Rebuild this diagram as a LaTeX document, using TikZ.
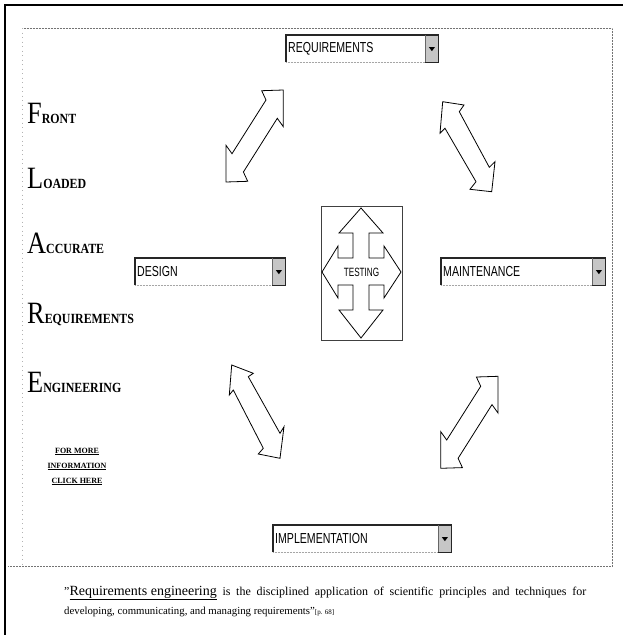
\documentclass[tikz,border=0pt]{standalone}
\usepackage{fontspec}
\setmainfont{Liberation Serif}
\newfontfamily\narrowsans[FakeStretch=0.73]{Liberation Sans}
\newfontfamily\testfont[FakeStretch=0.68]{Liberation Sans}
\newfontfamily\flarefont[FakeStretch=0.85]{Liberation Serif}

\tikzset{
  combo/.style={inner sep=0pt, anchor=north west, minimum height=27pt},
  combolabel/.style={font=\narrowsans\fontsize{14.5}{14.5}\selectfont, inner sep=0pt, anchor=west},
  blockarrow/.style={draw=black, fill=white, line width=0.8pt, line join=miter},
  flareword/.style={anchor=base west, inner sep=0pt, font=\flarefont},
  infolink/.style={font=\bfseries\fontsize{8}{8}\selectfont, inner sep=0pt, anchor=base},
  quoteline/.style={anchor=base west, inner sep=0pt},
}

\newcommand{\combobox}[5]{%
  \node[combo, minimum width=#4pt] (#1) at (#2,#3) {};
  \node[combolabel] (#1-label) at ([xshift=2pt]#1.west) {#5};
  \fill[gray!45] ([xshift=-13pt]#1.north east) rectangle (#1.south east);
  \draw[black!35, densely dotted, line width=0.5pt] (#1.south west) -- ([xshift=-13pt]#1.south east);
  \draw[black!85, line width=1.1pt] (#1.south west) -- (#1.north west) -- (#1.north east) -- (#1.south east) -- ([xshift=-13pt]#1.south east);
  \draw[black!60, line width=0.5pt] ([xshift=-13pt]#1.north east) -- ([xshift=-13pt]#1.south east);
  \fill[black] ([xshift=-9.5pt,yshift=1.5pt]#1.east) -- ([xshift=-3.5pt,yshift=1.5pt]#1.east) -- ([xshift=-6.5pt,yshift=-2.5pt]#1.east) -- cycle;
}

\begin{document}
\begin{tikzpicture}[x=1pt,y=-1pt]
\useasboundingbox (0,0) rectangle (623,635);
\fill[white] (0,0) rectangle (623,635);

% outer frame
\draw[black, line width=1.8pt] (4,5) -- (623,5);
\draw[black, line width=2.6pt] (5,4) -- (5,635);
% inner dotted frame
\draw[black!55, densely dotted, line width=0.5pt] (22,28) -- (612,28) -- (612,566) -- (8,566);
\draw[black!30, loosely dotted, line width=0.5pt] (22,28) -- (22,566);

% combo boxes
\combobox{req}{286}{35}{152}{REQUIREMENTS}
\combobox{des}{135}{258}{150}{DESIGN}
\combobox{mai}{441}{258}{164}{MAINTENANCE}
\combobox{imp}{273}{525}{178}{IMPLEMENTATION}

% testing box with four-way arrow
\node[draw=black!75, line width=0.9pt, minimum width=81pt, minimum height=134pt, inner sep=0pt] (testbox) at (361.5,273) {};
\draw[blockarrow] (361,208) -- (383,233) -- (369,233) -- (369,258) -- (384,258) -- (384,246) -- (401,272)
  -- (384,298) -- (384,285) -- (369,285) -- (369,310) -- (383,310) -- (361,338) -- (339,310)
  -- (353,310) -- (353,285) -- (338,285) -- (338,298) -- (322,272) -- (338,246) -- (338,258)
  -- (353,258) -- (353,233) -- (339,233) -- cycle;
\node[font=\testfont\fontsize{12}{12}\selectfont, inner sep=0pt] (testing) at (361.5,272) {TESTING};

% diagonal double arrows
\draw[blockarrow] (283.3,90) -- (283.3,126.7) -- (277.3,118.3) -- (243.4,172) -- (247.7,181.3)
  -- (226,182) -- (226,145.3) -- (232,153.7) -- (266,100) -- (261.7,90.7) -- cycle;
\draw[blockarrow] (442.7,101.7) -- (464,105) -- (459.3,111.7) -- (489.3,167.3) -- (495,161.7)
  -- (491.7,191.7) -- (470,189.3) -- (476,181.7) -- (445,128.3) -- (440,133.3) -- cycle;
\draw[blockarrow] (231.7,365) -- (253.3,373.3) -- (248.3,376.7) -- (280,433.3) -- (284,426.7)
  -- (280,458.3) -- (258.3,454) -- (263.3,448.3) -- (233.3,390) -- (229.3,395) -- cycle;
\draw[blockarrow] (498,376.3) -- (498,413) -- (492,404.6) -- (458.1,458.3) -- (462.4,467.6)
  -- (440.7,468.3) -- (440.7,431.6) -- (446.7,440) -- (480.7,386.3) -- (476.4,377) -- cycle;

% FLARE words
\node[flareword] (w1) at (27,123) {{\fontsize{31}{31}\selectfont F}{\fontsize{14}{14}\selectfont\bfseries RONT}};
\node[flareword] (w2) at (27,188) {{\fontsize{31}{31}\selectfont L}{\fontsize{14}{14}\selectfont\bfseries OADED}};
\node[flareword] (w3) at (27,253) {{\fontsize{31}{31}\selectfont A}{\fontsize{14}{14}\selectfont\bfseries CCURATE}};
\node[flareword] (w4) at (27,323) {{\fontsize{31}{31}\selectfont R}{\fontsize{14}{14}\selectfont\bfseries EQUIREMENTS}};
\node[flareword] (w5) at (27,392) {{\fontsize{31}{31}\selectfont E}{\fontsize{14}{14}\selectfont\bfseries NGINEERING}};

% info link
\node[infolink] (info1) at (77,453) {\underline{FOR MORE}};
\node[infolink] (info2) at (77,468) {\underline{INFORMATION}};
\node[infolink] (info3) at (77,483) {\underline{CLICK HERE}};

% quote
\node[quoteline, font=\fontsize{12}{12}\selectfont] (quote1) at (64,595) {\hbox to 522pt{"{\fontsize{14}{14}\selectfont\underline{Requirements engineering}} is the disciplined application of scientific principles and techniques for}};
\node[quoteline, font=\fontsize{10.8}{10.8}\selectfont] (quote2) at (64,614) {developing, communicating, and managing requirements"{\fontsize{7}{7}\selectfont[p. 68]}};
\end{tikzpicture}
\end{document}
